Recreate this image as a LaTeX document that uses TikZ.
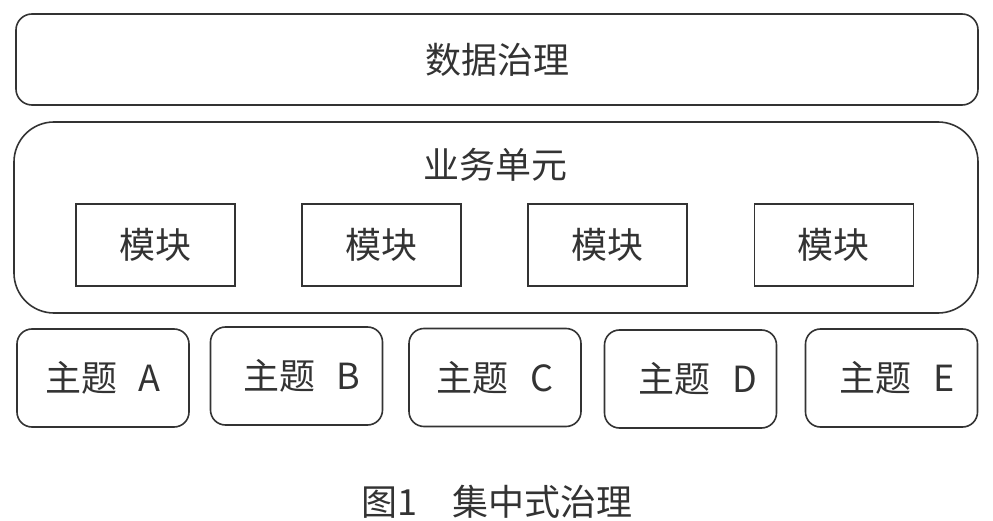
\documentclass[tikz,border=0pt]{standalone}
\usepackage{fontspec}
\setmainfont{Noto Sans CJK SC}
\usepackage{xcolor}
\definecolor{linegray}{RGB}{51, 51, 51}
\usepackage{tikz}
\usetikzlibrary{positioning}

\begin{document}
\begin{tikzpicture}[x=1pt, y=-1pt,
    layer/.style={rectangle, draw=linegray, line width=1.6pt, rounded corners=16pt,
      minimum width=962pt, minimum height=91pt, font=\fontsize{36}{40}\selectfont, text=linegray},
    unit/.style={rectangle, draw=linegray, line width=1.6pt, rounded corners=40pt,
      minimum width=964pt, minimum height=191pt},
    module/.style={rectangle, draw=linegray, line width=1.6pt, minimum width=159pt,
      minimum height=82pt, font=\fontsize{36}{40}\selectfont, text=linegray},
    topic/.style={rectangle, draw=linegray, line width=1.6pt, rounded corners=15pt,
      minimum width=172pt, minimum height=98pt, font=\fontsize{36}{40}\selectfont, text=linegray},
    title/.style={font=\fontsize{36}{40}\selectfont, text=linegray}
  ]
    \useasboundingbox (0,0) rectangle (993,521);

    \node[layer] (gov) at (497,59.5) {数据治理};

    \node[unit] (unit) at (496,217.5) {};
    \node[title] (unittitle) at (495,165) {业务单元};

    \node[module] (mod1) at (155.5,245) {模块};
    \node[module, right=65.5pt of mod1] (mod2) {模块};
    \node[module, right=65.5pt of mod2] (mod3) {模块};
    \node[module, right=65.5pt of mod3] (mod4) {模块};

    \node[topic] (topA) at (103,378) {主题\hspace{0.6em}A};
    \node[topic] (topB) at (296.5,376) {\hspace{0.3em}主题\hspace{0.6em}B};
    \node[topic] (topC) at (495,377.5) {主题\hspace{0.6em}C};
    \node[topic] (topD) at (690.5,379) {\hspace{0.4em}主题\hspace{0.6em}D};
    \node[topic] (topE) at (891.5,378) {\hspace{0.3em}主题\hspace{0.6em}E};

    \node[title] (caption) at (497,502) {图1\quad 集中式治理};
  \end{tikzpicture}
\end{document}
